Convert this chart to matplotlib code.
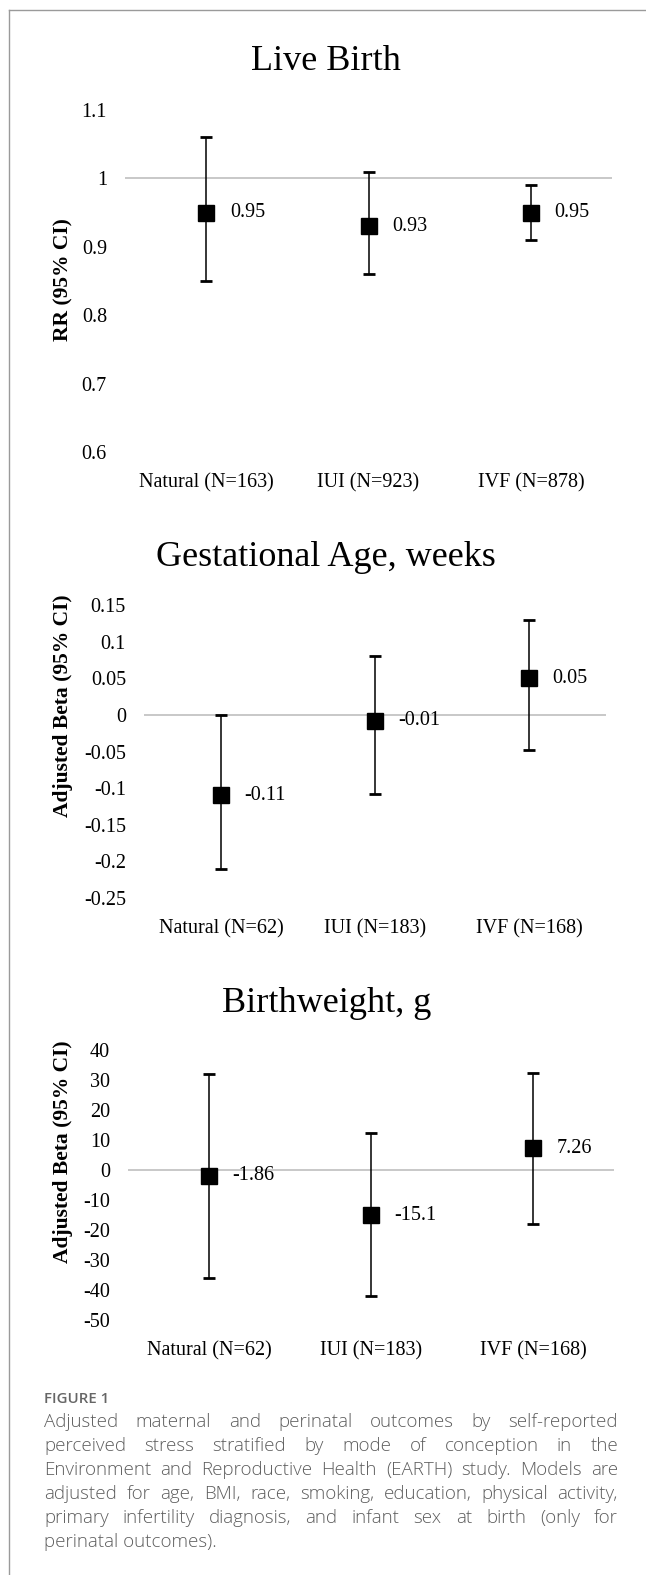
import matplotlib
matplotlib.use("Agg")
import matplotlib.pyplot as plt
from matplotlib.lines import Line2D

W, H = 646, 1575

# --- data ---
live_cats = ["Natural (N=163)", "IUI (N=923)", "IVF (N=878)"]
live_rr = [0.95, 0.93, 0.95]
live_lo = [0.85, 0.86, 0.91]
live_hi = [1.06, 1.01, 0.99]
live_labels = ["0.95", "0.93", "0.95"]
live_ticks = [0.6, 0.7, 0.8, 0.9, 1.0, 1.1]

ga_cats = ["Natural (N=62)", "IUI (N=183)", "IVF (N=168)"]
ga_beta = [-0.11, -0.008, 0.05]
ga_lo = [-0.21, -0.108, -0.048]
ga_hi = [0.0, 0.08, 0.13]
ga_labels = ["-0.11", "-0.01", "0.05"]
ga_ticks = [-0.25, -0.2, -0.15, -0.1, -0.05, 0.0, 0.05, 0.1, 0.15]

bw_cats = ["Natural (N=62)", "IUI (N=183)", "IVF (N=168)"]
bw_beta = [-1.86, -15.1, 7.26]
bw_lo = [-36, -42, -18]
bw_hi = [32, 12.5, 32.5]
bw_labels = ["-1.86", "-15.1", "7.26"]
bw_ticks = [-50, -40, -30, -20, -10, 0, 10, 20, 30, 40]

caption_head = "FIGURE 1"
caption_lines = [
    "Adjusted maternal and perinatal outcomes by self-reported",
    "perceived stress stratified by mode of conception in the",
    "Environment and Reproductive Health (EARTH) study. Models are",
    "adjusted for age, BMI, race, smoking, education, physical activity,",
    "primary infertility diagnosis, and infant sex at birth (only for",
    "perinatal outcomes).",
]

SERIF = ["Liberation Serif", "DejaVu Serif"]
SANS = ["Open Sans", "DejaVu Sans"]
CAP_COLOR = "#5e5e5e"
FS = 14.5


def fx(x):
    return x / W


def fy(y):
    return 1 - y / H


def fmt_tick(v):
    return f"{round(v, 4):g}"


def draw_panel(fig, box, title, title_xy, ylabel, ylabel_xy,
               cats, est, lo, hi, labels, ticks, ref):
    left, top, right, bottom = box
    ax = fig.add_axes([fx(left), fy(bottom), (right - left) / W, (bottom - top) / H])
    xs = list(range(len(cats)))
    yerr = [[e - l for e, l in zip(est, lo)], [h - e for e, h in zip(est, hi)]]
    ax.axhline(ref, color="#c4c4c4", lw=1.3, zorder=0)
    ax.errorbar(xs, est, yerr=yerr, fmt="s", color="black", ms=11.5,
                elinewidth=1.1, capsize=4.3, capthick=2.0, zorder=3)
    for xi, e, lab in zip(xs, est, labels):
        ax.annotate(lab, (xi, e), xytext=(17, 0), textcoords="offset points",
                    ha="left", va="center", fontsize=FS, family=SERIF)
    ax.set_xlim(-0.5, len(cats) - 0.5)
    ax.set_ylim(ticks[0], ticks[-1])
    ax.set_yticks(ticks)
    ax.set_yticklabels([fmt_tick(t) for t in ticks], family=SERIF, fontsize=FS)
    ax.set_xticks(xs)
    ax.set_xticklabels(cats, family=SERIF, fontsize=FS)
    ax.tick_params(axis="y", length=0, pad=13)
    ax.tick_params(axis="x", length=0, pad=15)
    for s in ax.spines.values():
        s.set_visible(False)
    ax.patch.set_alpha(0)

    fig.text(fx(title_xy[0]), fy(title_xy[1]), title, ha="center", va="center",
             fontsize=26, family=SERIF)
    fig.text(fx(ylabel_xy[0]), fy(ylabel_xy[1]), ylabel, ha="center", va="center",
             rotation=90, fontsize=15.5, fontweight="bold", family=SERIF)
    return ax


def draw_caption(fig, left, right, head_base, first_base, step, last_width):
    fig.text(fx(left), fy(head_base), caption_head, ha="left", va="baseline",
             fontsize=10.8, fontweight="semibold", family=SANS, color="#666666")
    fig.canvas.draw()
    r = fig.canvas.get_renderer()

    # size the body font so the short last line has the width seen in the figure
    probe = fig.text(0, 0, caption_lines[-1], fontsize=12, fontweight="light", family=SANS)
    size = 12 * last_width / probe.get_window_extent(r).width
    probe.remove()

    for i, line in enumerate(caption_lines):
        base = fy(first_base + i * step)
        if i == len(caption_lines) - 1:
            fig.text(fx(left), base, line, ha="left", va="baseline", fontsize=size,
                     fontweight="light", family=SANS, color=CAP_COLOR)
            continue
        words = line.split()
        texts = [fig.text(0, base, w, ha="left", va="baseline", fontsize=size,
                          fontweight="light", family=SANS, color=CAP_COLOR)
                 for w in words]
        widths = [t.get_window_extent(r).width for t in texts]
        gap = (right - left - sum(widths)) / (len(words) - 1)
        x = left
        for t, w in zip(texts, widths):
            t.set_x(fx(x))
            x += w + gap


def main() -> None:
    fig = plt.figure(figsize=(W / 100, H / 100), dpi=100)
    fig.patch.set_facecolor("white")

    # panel frame (only top and left edges are visible in the crop)
    fig.add_artist(Line2D([fx(9), fx(W)], [fy(10), fy(10)], color="#9a9a9a", lw=1.0))
    fig.add_artist(Line2D([fx(9), fx(9)], [fy(10), fy(H)], color="#9a9a9a", lw=1.0))

    draw_panel(fig, (125, 110, 612, 452), "Live Birth", (326, 62),
               "RR (95% CI)", (63, 280),
               live_cats, live_rr, live_lo, live_hi, live_labels, live_ticks, 1.0)
    draw_panel(fig, (144, 605, 606, 898), "Gestational Age, weeks", (326, 557),
               "Adjusted Beta (95% CI)", (63, 706),
               ga_cats, ga_beta, ga_lo, ga_hi, ga_labels, ga_ticks, 0.0)
    draw_panel(fig, (128, 1050, 614, 1320), "Birthweight, g", (327, 1003),
               "Adjusted Beta (95% CI)", (63, 1152),
               bw_cats, bw_beta, bw_lo, bw_hi, bw_labels, bw_ticks, 0.0)

    draw_caption(fig, 44, 618, 1403, 1427, 24.0, 173)
    fig.savefig("out.png", dpi=100)


if __name__ == "__main__":
    main()
